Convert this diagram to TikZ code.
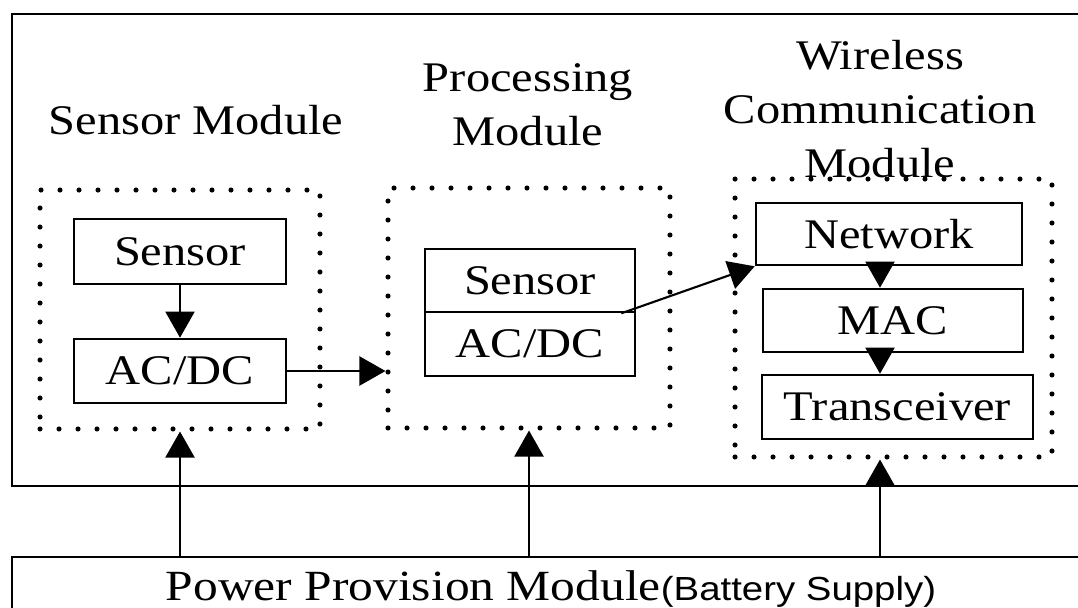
\documentclass[tikz,border=0pt]{standalone}
\usepackage{fontspec}
\setmainfont[FakeStretch=1.15]{Liberation Serif}
\setsansfont[FakeStretch=1.15]{Liberation Sans}
\usetikzlibrary{arrows.meta, positioning}

\begin{document}
\begin{tikzpicture}[x=0.02cm, y=-0.02cm]
        \tikzstyle{box} = [rectangle, draw, line width=1.5pt, inner sep=0pt, font=\fontsize{24}{29}\selectfont]
        \tikzstyle{group} = [rectangle, draw, line width=2.9pt, line cap=round, dash pattern=on 0pt off 0.38cm, inner sep=0pt]
        \tikzstyle{title} = [font=\fontsize{24}{30.7}\selectfont, align=center, inner sep=0pt]
        \tikzstyle{arrow} = [line width=1.2pt, -{Triangle[length=0.52cm, width=0.58cm]}]

        \useasboundingbox (0,0) rectangle (1078,608);
        \clip (0,0) rectangle (1078,608);

        % frame round the node modules
        \draw [line width=1.5pt] (12,14) rectangle (1100,486);

        \node (slabel) [title, anchor=base] at (196,134) {Sensor Module};
        \node (plabel) [title] at (528,105) {Processing\\Module};
        \node (wlabel) [title] at (880,109.5) {Wireless\\Communication\\Module};

        \node (sdot) [group, minimum width=5.6cm, minimum height=4.78cm] at (180,309.5) {};
        \node (pdot) [group, minimum width=5.64cm, minimum height=4.8cm] at (529,308) {};
        \node (wdot) [group, minimum width=6.34cm, minimum height=5.56cm] at (893.5,318) {};

        \node (sens) [box, minimum width=4.24cm, minimum height=1.3cm] at (180,251.5) {Sensor};
        \node (acdc) [box, minimum width=4.24cm, minimum height=1.28cm] at (180,371) {AC/DC};
        \node (psens) [box, minimum width=4.2cm, minimum height=1.26cm] at (530,280.5) {Sensor};
        \node (pacdc) [box, minimum width=4.2cm, minimum height=1.28cm, below=-1.5pt of psens] {AC/DC};
        \node (net) [box, minimum width=5.32cm, minimum height=1.24cm] at (889,234) {Network};
        \node (mac) [box, minimum width=5.2cm, minimum height=1.26cm] at (893,320.5) {MAC};
        \node (trx) [box, minimum width=5.42cm, minimum height=1.28cm] at (897.5,407) {Transceiver};

        \node (power) [rectangle, draw, line width=1.5pt, minimum width=21.56cm, minimum height=1.28cm,
            font=\fontsize{24.5}{29}\selectfont] at (551,589)
            {Power Provision Module{\sffamily\fontsize{19}{23}\selectfont(Battery Supply)}};
        \coordinate (wcol) at (880,0);

        \draw [arrow] (sens) -- (acdc);
        \draw [arrow] (acdc.east) -- (acdc.east -| pdot.west);
        \draw [arrow] ([xshift=-0.3cm]psens.south east) -- (net.south west);
        \draw [arrow] (net.south -| wcol) -- (mac.north -| wcol);
        \draw [arrow] (mac.south -| wcol) -- (trx.north -| wcol);

        \draw [arrow] (power.north -| sdot.south) -- (sdot.south);
        \draw [arrow] (power.north -| pdot.south) -- (pdot.south);
        \draw [arrow] (power.north -| wcol) -- (wdot.south -| wcol);
\end{tikzpicture}
\end{document}
